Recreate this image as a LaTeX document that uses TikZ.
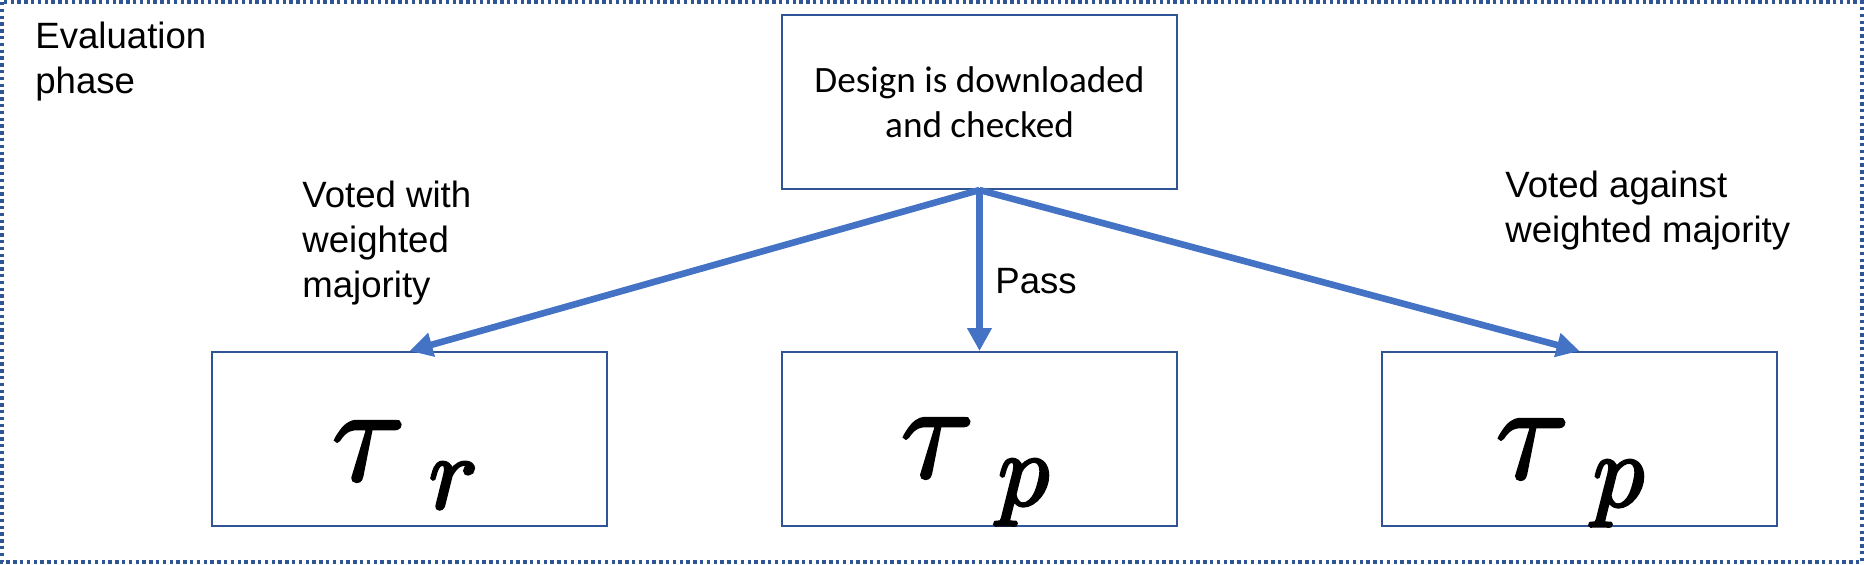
\RequirePackage{fix-cm}
\documentclass[tikz,border=0pt]{standalone}
\usepackage{amsmath}
\usepackage{fontspec}
\setmainfont{Liberation Sans}
\newfontfamily\calibri{Carlito}
\usetikzlibrary{arrows.meta}
\definecolor{boxblue}{HTML}{2F5597}
\definecolor{arrblue}{HTML}{4472C4}
\newcommand\heavy[1]{\special{pdf:literal direct 2 Tr 1.6 w}#1\special{pdf:literal direct 0 Tr}}

\begin{document}
\begin{tikzpicture}[x=0.5pt,y=-0.5pt,
	box/.style={draw=boxblue,line width=1pt,minimum width=197.5pt,minimum height=87pt,inner sep=0pt},
	arr/.style={draw=arrblue,line width=3.3pt,-{Triangle[length=11.5pt,width=11.7pt,fill=arrblue]}},
	lbl/.style={anchor=north west,inner sep=0pt,align=left,font=\fontsize{18.3}{22.5}\selectfont},
	tau/.style={anchor=base,inner sep=0pt,font=\fontsize{68}{70}\selectfont}]
					\useasboundingbox (0,0) rectangle (1864,564);
					\draw[boxblue,line width=1.7pt,dash pattern=on 1.7pt off 1.7pt] (2,2) rectangle (1862,562);
					
					\node[box,align=center,font=\calibri\fontsize{18.6}{22.5}\selectfont] (check) at (979.5,102) {Design is downloaded\\and checked};
					\node[box] (rej) at (409.5,439) {};
					\node[box] (pas) at (979.5,439) {};
					\node[box] (agn) at (1579.5,439) {};
					
					\node[tau] (taur) at (405,480) {\heavy{$\tau$\hspace{12pt}\raisebox{-14pt}{\fontsize{52}{52}\selectfont$r$}}};
					\node[tau] (taupa) at (975,477) {\heavy{$\tau$\hspace{12pt}\raisebox{-14pt}{\fontsize{52}{52}\selectfont$p$}}};
					\node[tau] (taupb) at (1570,478) {\heavy{$\tau$\hspace{12pt}\raisebox{-14pt}{\fontsize{52}{52}\selectfont$p$}}};
					
					\draw[arr] (check.south) -- (rej.north);
					\draw[arr] (check.south) -- (pas.north);
					\draw[arr] (check.south) -- (agn.north);
					
					\node[lbl] (phase) at (35,22) {Evaluation\\phase};
					\node[lbl] (lwith) at (302,181) {Voted with\\weighted\\majority};
					\node[lbl] (lagainst) at (1505,171) {Voted against\\weighted majority};
					\node[lbl] (lpass) at (995,268) {Pass};
\end{tikzpicture}
\end{document}
